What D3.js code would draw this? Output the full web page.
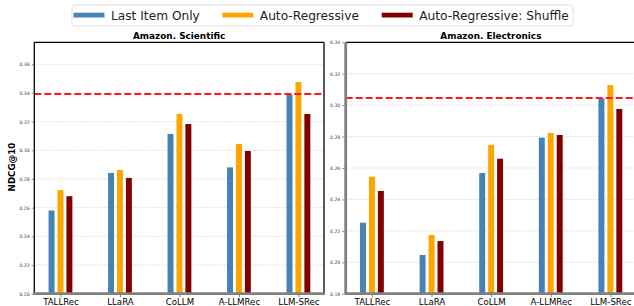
<!DOCTYPE html>
<html>
<head>
<meta charset="utf-8">
<script src="https://cdn.jsdelivr.net/npm/d3@7"></script>
<style>
  body { margin: 0; background: #fff; }
  svg { display: block; font-family: "DejaVu Sans", sans-serif; }
</style>
</head>
<body>
<script>
// values
const methods = ['TALLRec', 'LLaRA', 'CoLLM', 'A-LLMRec', 'LLM-SRec'];
const seriesNames = ['Last Item Only', 'Auto-Regressive', 'Auto-Regressive: Shuffle'];
const colors = ['#4682B4', '#FFA500', '#800000'];

const sciLast = [0.258, 0.2842, 0.3114, 0.2881, 0.339];
const sciAR = [0.2723, 0.2863, 0.3253, 0.3044, 0.3476];
const sciShuffle = [0.268, 0.2807, 0.3183, 0.2995, 0.3253];
const sciRef = 0.3393;
const sciTicks = [0.20, 0.22, 0.24, 0.26, 0.28, 0.30, 0.32, 0.34, 0.36];

const eleLast = [0.2252, 0.2046, 0.2568, 0.2793, 0.3044];
const eleAR = [0.2545, 0.2174, 0.2747, 0.2823, 0.3128];
const eleShuffle = [0.2454, 0.2135, 0.2659, 0.281, 0.2976];
const eleRef = 0.3046;
const eleTicks = [0.18, 0.20, 0.22, 0.24, 0.26, 0.28, 0.30, 0.32, 0.34];

const W = 634, H = 306;
const svg = d3.select('body').append('svg')
    .attr('width', W)
    .attr('height', H);

function drawPanel(p) {
    const g = svg.append('g');
    const x = d3.scaleLinear().domain([-0.44, 4.43]).range([p.left, p.right]);
    const y = d3.scaleLinear().domain(p.ydom).range([293.7, 42.3]);

    // grid
    g.selectAll('.grid').data(p.ticks).join('line')
        .attr('x1', p.left).attr('x2', p.right)
        .attr('y1', d => y(d)).attr('y2', d => y(d))
        .attr('stroke', '#d0d0d0').attr('stroke-width', 0.8)
        .attr('stroke-dasharray', '1.2,1.2');

    // bars
    const barW = 0.1, offs = [-0.15, 0, 0.15];
    p.series.forEach((vals, s) => {
        g.selectAll('.b' + s).data(vals).join('rect')
            .attr('x', (d, i) => x(i + offs[s] - barW / 2))
            .attr('width', x(barW) - x(0))
            .attr('y', d => y(d))
            .attr('height', d => y(p.ydom[0]) - y(d))
            .attr('fill', colors[s]);
    });

    // reference line
    g.append('line')
        .attr('x1', p.left).attr('x2', p.right)
        .attr('y1', y(p.ref)).attr('y2', y(p.ref))
        .attr('stroke', '#ff1a1a').attr('stroke-width', 2)
        .attr('stroke-dasharray', '7,3');

    // spines
    g.append('line').attr('x1', p.left).attr('x2', p.right).attr('y1', 42.3).attr('y2', 42.3)
        .attr('stroke', '#000').attr('stroke-width', 1.3);
    g.append('line').attr('x1', p.right).attr('x2', p.right).attr('y1', 42.3).attr('y2', 293.7)
        .attr('stroke', '#000').attr('stroke-width', 1.3);
    g.append('line').attr('x1', p.left).attr('x2', p.left).attr('y1', 42.3).attr('y2', 293.7)
        .attr('stroke', p.leftSpine).attr('stroke-width', p.leftSpineW);
    g.append('line').attr('x1', p.left - 1).attr('x2', p.right + 1).attr('y1', 293.7).attr('y2', 293.7)
        .attr('stroke', '#808080').attr('stroke-width', 2.8);

    // y axis
    const ya = g.append('g')
        .attr('transform', `translate(${p.left - p.leftSpineW / 2},0)`)
        .call(d3.axisLeft(y).tickValues(p.ticks).tickFormat(d3.format('.2f')).tickSize(2).tickPadding(2));
    ya.select('.domain').remove();
    ya.selectAll('.tick line').attr('stroke', '#666').attr('stroke-width', 0.8);
    ya.selectAll('.tick text').attr('font-size', 4.6).attr('fill', '#444')
        .attr('font-family', '"DejaVu Sans", sans-serif');

    // x axis
    const xa = g.append('g')
        .attr('transform', 'translate(0,295)')
        .call(d3.axisBottom(x).tickValues(d3.range(methods.length)).tickFormat(i => methods[i]).tickSize(2).tickPadding(1.5));
    xa.select('.domain').remove();
    xa.selectAll('.tick line').attr('stroke', '#555').attr('stroke-width', 0.8);
    xa.selectAll('.tick text').attr('font-size', 8.6).attr('fill', '#000')
        .attr('font-family', '"DejaVu Sans", sans-serif');

    // title
    g.append('text')
        .attr('x', (p.left + p.right) / 2).attr('y', 39)
        .attr('text-anchor', 'middle')
        .attr('font-size', 8.9).attr('font-weight', 'bold')
        .text(p.title);
}

drawPanel({
    left: 34.3, right: 324, ydom: [0.20, 0.3753], ticks: sciTicks,
    series: [sciLast, sciAR, sciShuffle], ref: sciRef,
    title: 'Amazon. Scientific', leftSpine: '#000', leftSpineW: 1.3
});
drawPanel({
    left: 345.7, right: 636, ydom: [0.18, 0.34], ticks: eleTicks,
    series: [eleLast, eleAR, eleShuffle], ref: eleRef,
    title: 'Amazon. Electronics', leftSpine: '#808080', leftSpineW: 2.8
});

// y label
svg.append('text')
    .attr('transform', 'translate(15,167) rotate(-90)')
    .attr('text-anchor', 'middle')
    .attr('font-size', 8.7).attr('font-weight', 'bold')
    .text('NDCG@10');

// legend
const leg = svg.append('g');
leg.append('rect')
    .attr('x', 72).attr('y', 5).attr('width', 501).attr('height', 21)
    .attr('rx', 2).attr('fill', '#fff').attr('stroke', '#d8d8d8').attr('stroke-width', 0.8);
const legX = [73.5, 222.3, 381.7];
leg.selectAll('.lp').data(seriesNames).join('rect')
    .attr('x', (d, i) => legX[i]).attr('y', 12.7)
    .attr('width', 31).attr('height', 4.8)
    .attr('fill', (d, i) => colors[i]);
leg.selectAll('.lt').data(seriesNames).join('text')
    .attr('x', (d, i) => legX[i] + 37.5).attr('y', 19.8)
    .attr('font-size', 12.2).attr('fill', '#222')
    .text(d => d);
</script>
</body>
</html>
